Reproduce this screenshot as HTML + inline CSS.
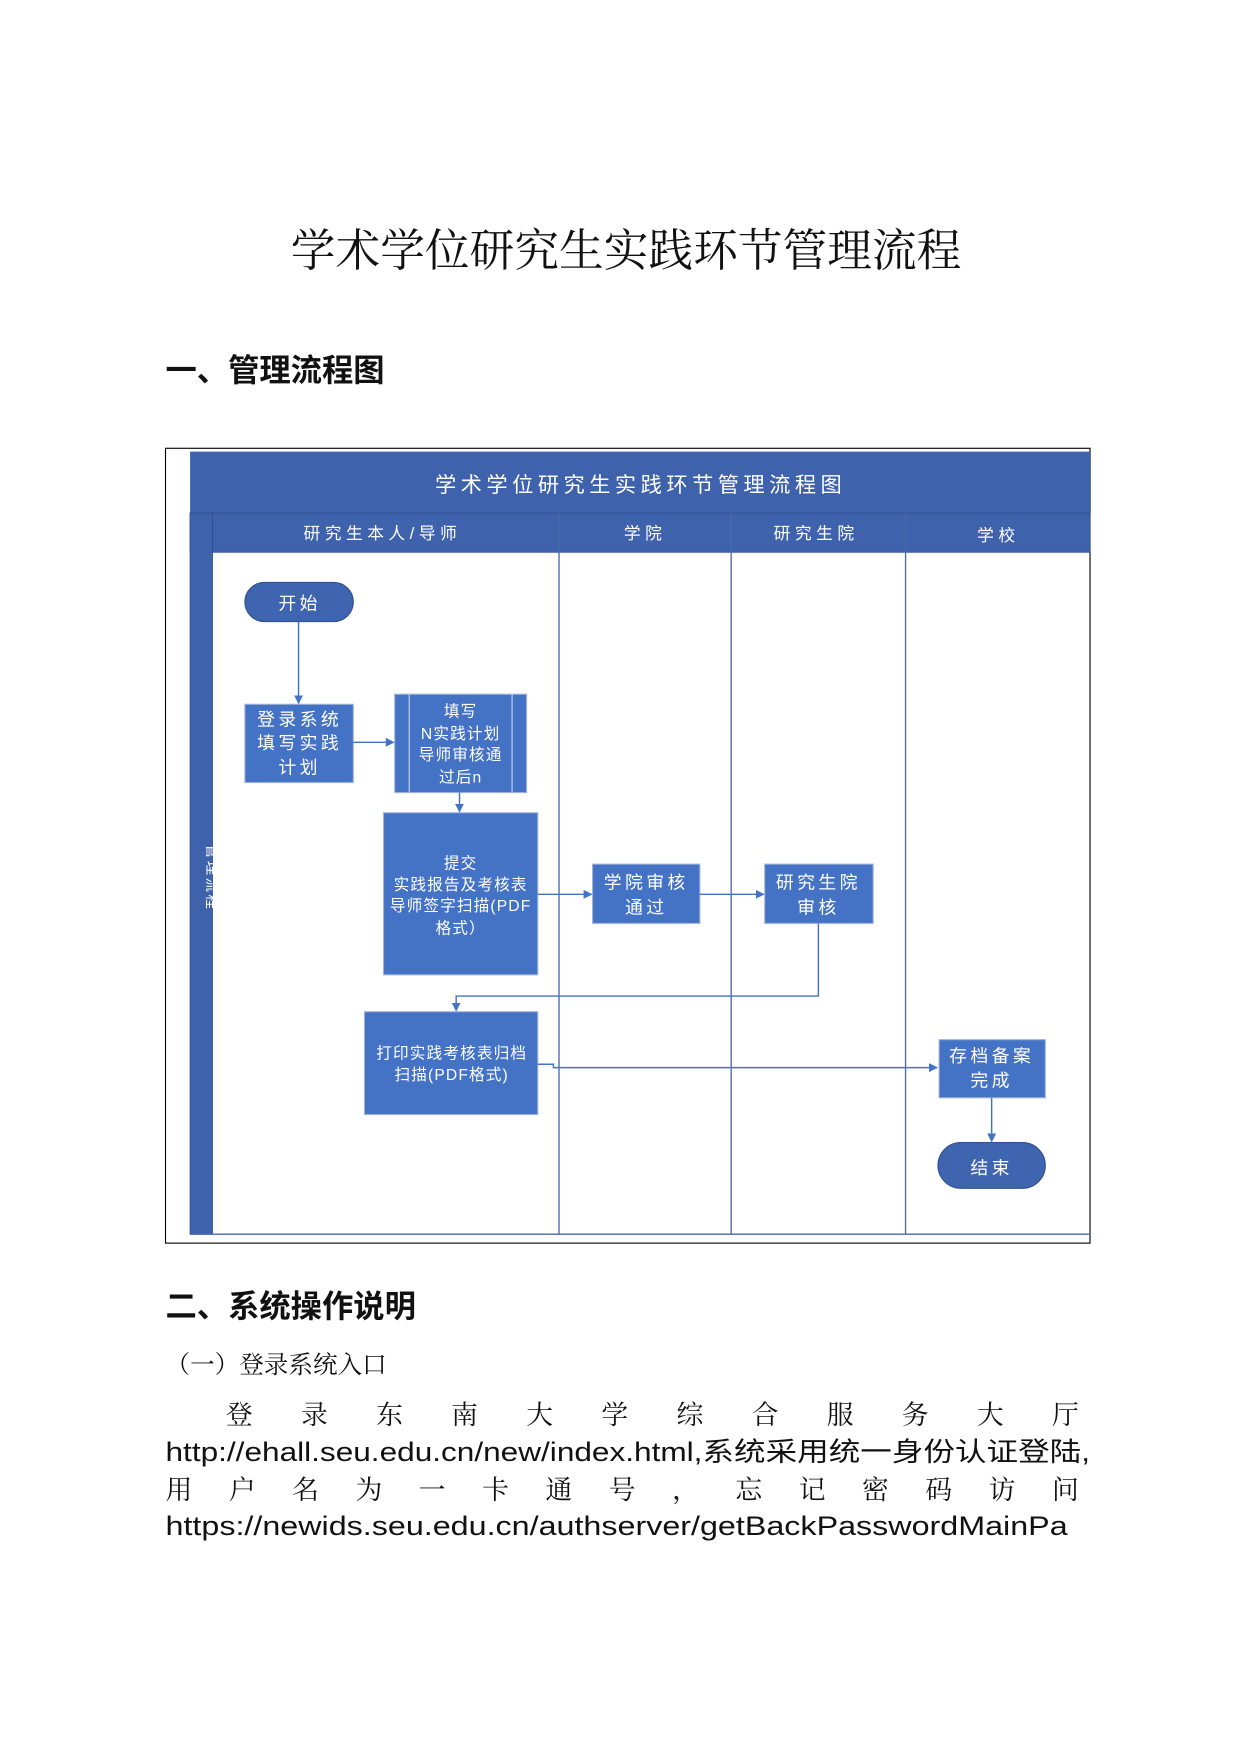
<!DOCTYPE html>
<html><head><meta charset="utf-8"><style>
html,body{margin:0;padding:0;background:#fff}
svg{display:block}
.t{font-family:"Liberation Sans","Noto Sans CJK SC",sans-serif;fill:#fff}
.s{font-family:"Liberation Serif","Noto Serif CJK SC",serif;fill:#111}
.b{font-family:"Liberation Sans","Noto Sans CJK SC",sans-serif;fill:#111;font-weight:bold}
</style></head><body>
<svg width="1241" height="1754" viewBox="0 0 1110 1569" xmlns="http://www.w3.org/2000/svg">
<defs><marker id="a" markerWidth="8" markerHeight="8" refX="7" refY="4" orient="auto" markerUnits="userSpaceOnUse"><path d="M0,0 L8,4 L0,8z" fill="#4472c4"/></marker></defs>
<text class="s" x="560" y="238" font-size="40" text-anchor="middle">学术学位研究生实践环节管理流程</text>
<text class="b" x="148" y="341" font-size="28">一、管理流程图</text>
<rect x="148" y="401" width="827" height="711" fill="#fff" stroke="#000" stroke-width="1"/>
<rect x="170" y="404" width="805" height="55" fill="#3f62ad"/>
<text class="t" x="573" y="440" font-size="19" text-anchor="middle" letter-spacing="4">学术学位研究生实践环节管理流程图</text>
<rect x="170" y="459" width="805" height="35" fill="#3f62ad" stroke="#2f4f8f" stroke-width="0.8"/>
<rect x="170" y="459" width="20" height="645" fill="#3f62ad" stroke="#2f4f8f" stroke-width="0.8"/>
<g stroke="#4a6aa8" stroke-width="1.2"><line x1="500" y1="459" x2="500" y2="1104"/><line x1="654" y1="459" x2="654" y2="1104"/><line x1="810" y1="459" x2="810" y2="1104"/><line x1="170" y1="1104" x2="975" y2="1104"/></g>
<g class="t" font-size="15" text-anchor="middle" letter-spacing="4">
<text x="342" y="482">研究生本人/导师</text><text x="577" y="482">学院</text><text x="730" y="482">研究生院</text><text x="893" y="484">学校</text>
</g>
<text class="t" font-size="13" text-anchor="middle" letter-spacing="2" transform="translate(185,785) rotate(90)">管理流程</text>
<g fill="#4472c4" stroke="#9fb3d9" stroke-width="1">
<rect x="219" y="521" width="97" height="35" rx="17.5" fill="#3f65b0" stroke="#2f4f8f"/>
<rect x="219" y="630" width="97" height="70"/>
<rect x="353" y="621" width="118" height="88"/>
<rect x="343" y="727" width="138" height="145"/>
<rect x="530" y="773" width="96" height="53"/>
<rect x="684" y="773" width="97" height="53"/>
<rect x="326" y="905" width="155" height="92"/>
<rect x="840" y="930" width="95" height="52"/>
<rect x="839" y="1022" width="96" height="41" rx="20.5" fill="#3f65b0" stroke="#2f4f8f"/>
</g>
<g stroke="#c8d4ee" stroke-width="1"><line x1="366" y1="621" x2="366" y2="709"/><line x1="458" y1="621" x2="458" y2="709"/></g>
<g stroke="#4472c4" stroke-width="1.3" fill="none">
<line x1="267" y1="556" x2="267" y2="629" marker-end="url(#a)"/>
<line x1="316" y1="664" x2="352" y2="664" marker-end="url(#a)"/>
<line x1="411" y1="709" x2="411" y2="726" marker-end="url(#a)"/>
<line x1="481" y1="800" x2="529" y2="800" marker-end="url(#a)"/>
<line x1="626" y1="800" x2="683" y2="800" marker-end="url(#a)"/>
<polyline points="732,826 732,891 408,891 408,904" marker-end="url(#a)"/>
<polyline points="481,952 495,952 495,955 838,955" marker-end="url(#a)"/>
<line x1="887" y1="982" x2="887" y2="1021" marker-end="url(#a)"/>
</g>
<g class="t" font-size="16" text-anchor="middle" letter-spacing="3">
<text x="268" y="545">开始</text>
<text x="268" y="649">登录系统</text><text x="268" y="670">填写实践</text><text x="268" y="692">计划</text>
<text x="578" y="795">学院审核</text><text x="578" y="817">通过</text>
<text x="732" y="795">研究生院</text><text x="732" y="817">审核</text>
<text x="887" y="950">存档备案</text><text x="887" y="972">完成</text>
<text x="887" y="1050">结束</text>
</g>
<g class="t" font-size="14" text-anchor="middle" letter-spacing="1">
<text x="412" y="641">填写</text><text x="412" y="661">N实践计划</text><text x="412" y="680">导师审核通</text><text x="412" y="700">过后n</text>
<text x="412" y="777">提交</text><text x="412" y="796">实践报告及考核表</text><text x="412" y="815">导师签字扫描(PDF</text><text x="412" y="835">格式）</text>
<text x="404" y="947">打印实践考核表归档</text><text x="404" y="966">扫描(PDF格式)</text>
</g>
<text class="b" x="148" y="1178" font-size="28">二、系统操作说明</text>
<text class="s" x="148" y="1228" font-size="22">（一）登录系统入口</text>
<text class="s" x="202" y="1274" font-size="24" textLength="763" lengthAdjust="spacing">登录东南大学综合服务大厅</text>
<text class="t" style="fill:#111" x="148" y="1307" font-size="24" textLength="827" lengthAdjust="spacingAndGlyphs">http://ehall.seu.edu.cn/new/index.html,系统采用统一身份认证登陆,</text>
<text class="s" x="148" y="1341" font-size="24" textLength="817" lengthAdjust="spacing">用户名为一卡通号，忘记密码访问</text>
<text class="t" style="fill:#111" x="148" y="1373" font-size="24" textLength="807" lengthAdjust="spacingAndGlyphs">https://newids.seu.edu.cn/authserver/getBackPasswordMainPa</text>
</svg>
</body></html>
